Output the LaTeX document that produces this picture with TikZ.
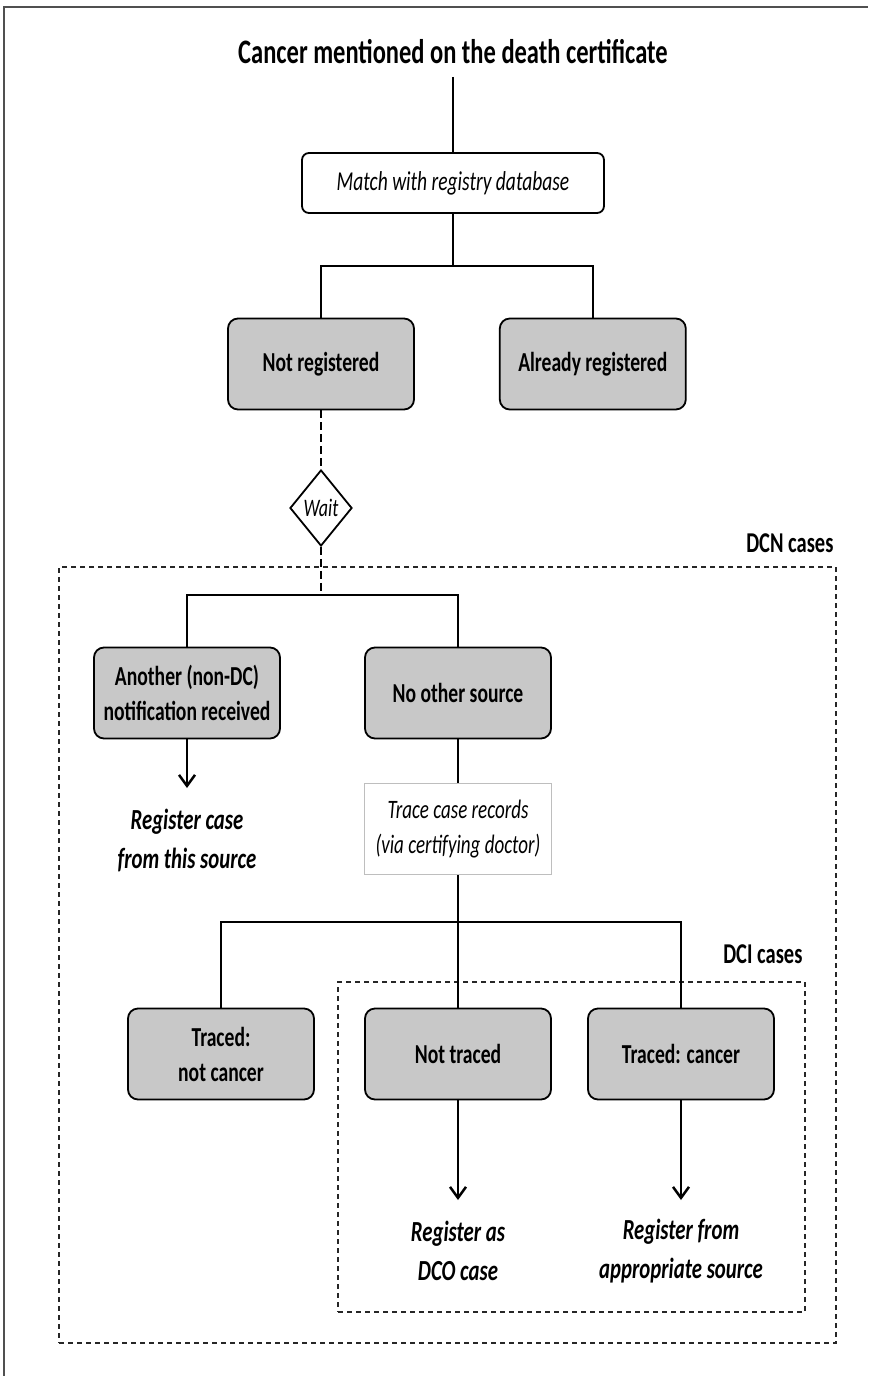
\documentclass[tikz,border=0pt]{standalone}
\usepackage{graphicx}
\usepackage{fontspec}
\setmainfont{Carlito}
\usetikzlibrary{arrows.meta,positioning,shapes.geometric}
\definecolor{boxgrey}{RGB}{200,200,200}
\definecolor{framegrey}{RGB}{80,80,80}
\definecolor{tracegrey}{RGB}{190,190,190}
\newcommand{\tallt}[1]{\scalebox{1}[1.4]{#1}}

\begin{document}
\begin{tikzpicture}[x=1pt,y=-1pt,>={Straight Barb[length=11pt,width=16pt]},
                    line width=2.5pt]
  \tikzstyle{greybox}=[rectangle,rounded corners=10pt,draw=black,fill=boxgrey,line width=1.8pt,
                       minimum width=186pt,minimum height=91pt,align=center,
                       font=\fontsize{19.6}{35}\selectfont\bfseries]
  \tikzstyle{whitebox}=[rectangle,rounded corners=7pt,draw=black,fill=white,line width=1.8pt,
                        minimum width=302pt,minimum height=60pt,font=\fontsize{19.5}{22}\selectfont\itshape]
  \tikzstyle{tracebox}=[rectangle,draw=tracegrey,fill=white,line width=1pt,
                        minimum width=187pt,minimum height=91pt,align=center,
                        font=\fontsize{19}{35}\selectfont\itshape]
  \tikzstyle{waitbox}=[diamond,draw=black,fill=white,line width=1.8pt,inner sep=0pt,
                       minimum width=62pt,minimum height=76pt,font=\fontsize{18}{20}\selectfont\itshape]
  \tikzstyle{result}=[align=center,font=\fontsize{20.8}{39}\selectfont\bfseries\itshape]
  \tikzstyle{caselabel}=[inner sep=0pt,font=\fontsize{20.5}{24}\selectfont\bfseries]
  \tikzstyle{zone}=[rectangle,draw=black!85,dash pattern=on 5pt off 4pt,line width=1.4pt,inner sep=0pt]
  \tikzstyle{dashlink}=[dash pattern=on 8pt off 4pt]

  \useasboundingbox (0,0) rectangle (868,1376);
  \draw[framegrey,line width=2.5pt] (4,1376) -- (4,7) -- (868,7);

  % dashed areas
  \node[zone,minimum width=777pt,minimum height=776pt] (dcn) at (447.5,955) {};
  \node[zone,minimum width=467pt,minimum height=330pt] (dci) at (571.5,1147) {};
  \node[caselabel] (dcnlab) [above left=12pt and 2pt of dcn.north east] {\tallt{DCN cases}};
  \node[caselabel] (dcilab) [above left=16pt and 2pt of dci.north east] {\tallt{DCI cases}};

  \node[font=\fontsize{24.5}{28}\selectfont\bfseries] (T) at (453,52) {\tallt{Cancer mentioned on the death certificate}};
  \node[whitebox] (M) at (453,183) {\tallt{Match with registry database}};
  \node[greybox] (N) at (321,364) {\tallt{Not registered}};
  \node[greybox] (A) [right=84pt of N] {\tallt{Already registered}};
  \node[waitbox] (W) at (321,508) {\tallt{Wait}};

  \node[greybox] (O) at (187,693) {\tallt{Another (non-DC)}\\\tallt{notification received}};
  \node[greybox] (S) at (458,693) {\tallt{No other source}};
  \node[result] (RO) at (187,840) {\tallt{Register case}\\\tallt{from this source}};
  \node[tracebox] (R) [below=44pt of S] {\tallt{Trace case records}\\\tallt{(via certifying doctor)}};

  \node[greybox] (C) at (221,1054) {\tallt{Traced:}\\\tallt{not cancer}};
  \node[greybox] (U) at (458,1054) {\tallt{Not traced}};
  \node[greybox] (K) at (681,1054) {\tallt{Traced: cancer}};
  \node[result] (RU) at (458,1251) {\tallt{Register as}\\\tallt{DCO case}};
  \node[result] (RK) at (681,1251) {\tallt{Register from}\\\tallt{appropriate source}};

  \coordinate (b1) at (453,266);
  \coordinate (b2) at (321,595);
  \coordinate (b3) at (458,922);
  \coordinate (tO) at (187,788);
  \coordinate (tU) at (458,1200);
  \coordinate (tK) at (681,1200);

  \draw[shorten <=8pt] (T) -- (M);
  \draw (M) -- (b1);
  \draw (N) |- (b1) -| (A);
  \draw[dashlink] (N) -- (W);
  \draw[dashlink] (W) -- (b2);
  \draw (O) |- (b2) -| (S);
  \draw[->] (O) -- (tO);
  \draw (S) -- (R);
  \draw (R) -- (U);
  \draw (C) |- (b3) -| (K);
  \draw[->] (U) -- (tU);
  \draw[->] (K) -- (tK);
\end{tikzpicture}
\end{document}
